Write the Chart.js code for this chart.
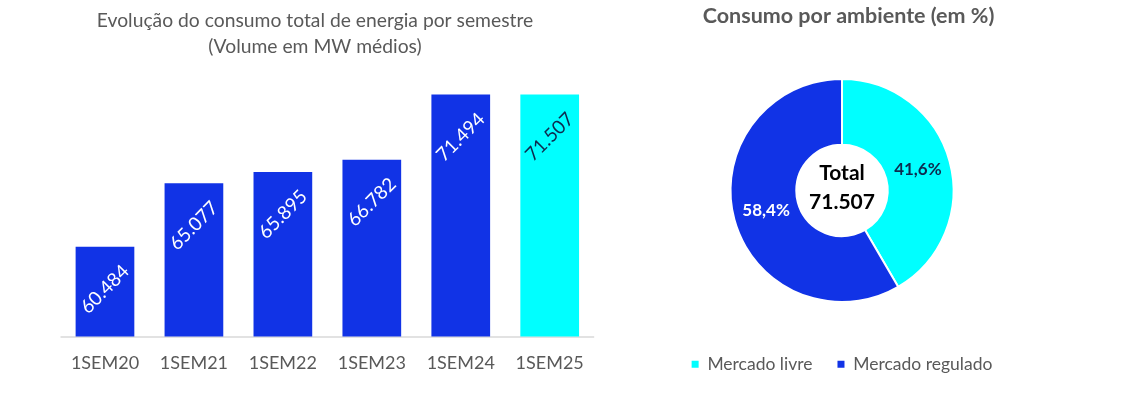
<!DOCTYPE html>
<html>
<head>
<meta charset="utf-8">
<script src="https://cdn.jsdelivr.net/npm/chart.js@4"></script>
<style>
    body { margin: 0; background: #fff; width: 1128px; height: 398px; overflow: hidden; }
    #boxBar { position: absolute; left: 0; top: 0; width: 600px; height: 398px; }
    #boxPie { position: absolute; left: 660px; top: 0; width: 364px; height: 398px; }
</style>
</head>
<body>
<div id="boxBar"><canvas id="barChart"></canvas></div>
<div id="boxPie"><canvas id="pieChart"></canvas></div>
<script>
    // dados do grafico de barras (MW medios)
    var semestres = ["1SEM20", "1SEM21", "1SEM22", "1SEM23", "1SEM24", "1SEM25"];
    var consumo = [60484, 65077, 65895, 66782, 71494, 71507];
    var corBarras = ["#1133E6", "#1133E6", "#1133E6", "#1133E6", "#1133E6", "#00FFFF"];
    var corRotulos = ["#ffffff", "#ffffff", "#ffffff", "#ffffff", "#ffffff", "#0E2A4E"];
    var tituloBarras = ["Evolução do consumo total de energia por semestre", "(Volume em MW médios)"];

    // dados da rosca (%)
    var ambientes = ["Mercado livre", "Mercado regulado"];
    var percentual = [41.6, 58.4];
    var corAmbientes = ["#00FFFF", "#1133E6"];
    var corPct = ["#0E2A4E", "#ffffff"];
    var totalLabel = "71.507";
    var tituloRosca = "Consumo por ambiente (em %)";

    var fonte = "Lato, 'Open Sans', sans-serif";
    var cinza = "#595959";

    function fmtNum(v) {
        return v.toLocaleString("pt-BR");
    }

    // titulo desenhado numa posicao fixa do canvas
    function pluginTitulo(linhas, x, y0, passo, font) {
        return {
            id: "tituloFixo",
            afterDraw: function (chart) {
                var ctx = chart.ctx;
                ctx.save();
                ctx.font = font;
                ctx.fillStyle = cinza;
                ctx.textAlign = "center";
                ctx.textBaseline = "middle";
                linhas.forEach(function (t, i) {
                    ctx.fillText(t, x, y0 + i * passo);
                });
                ctx.restore();
            }
        };
    }

    // linha de base so dentro da area do grafico
    var linhaBase = {
        id: "linhaBase",
        beforeDatasetsDraw: function (chart) {
            var a = chart.chartArea;
            var ctx = chart.ctx;
            ctx.save();
            ctx.strokeStyle = "#d9d9d9";
            ctx.lineWidth = 1.5;
            ctx.beginPath();
            ctx.moveTo(a.left, a.bottom + 0.5);
            ctx.lineTo(a.right, a.bottom + 0.5);
            ctx.stroke();
            ctx.restore();
        }
    };

    // rotulos girados dentro das barras
    var rotuloBarras = {
        id: "rotuloBarras",
        afterDatasetsDraw: function (chart) {
            var ctx = chart.ctx;
            var meta = chart.getDatasetMeta(0);
            ctx.save();
            ctx.font = "19px " + fonte;
            ctx.textAlign = "center";
            ctx.textBaseline = "middle";
            meta.data.forEach(function (bar, i) {
                ctx.save();
                ctx.translate(bar.x, bar.y + 42.5);
                ctx.rotate(-45 * Math.PI / 180);
                ctx.fillStyle = corRotulos[i];
                ctx.fillText(fmtNum(consumo[i]), 0, 0);
                ctx.restore();
            });
            ctx.restore();
        }
    };

    new Chart(document.getElementById("barChart"), {
        type: "bar",
        data: {
            labels: semestres,
            datasets: [{
                data: consumo,
                backgroundColor: corBarras,
                categoryPercentage: 1,
                barPercentage: 0.66
            }]
        },
        options: {
            responsive: true,
            maintainAspectRatio: false,
            animation: false,
            layout: { padding: { left: 60.5, right: 0, top: 87.6, bottom: 7.6 } },
            plugins: {
                legend: { display: false },
                tooltip: { enabled: false }
            },
            scales: {
                y: { display: false, min: 54000, max: 72000 },
                x: {
                    grid: { display: false, drawTicks: false },
                    border: { display: false },
                    ticks: { color: cinza, font: { family: fonte, size: 18 }, padding: 16.2 }
                }
            }
        },
        plugins: [linhaBase, rotuloBarras, pluginTitulo(tituloBarras, 315, 21, 26, "19.3px " + fonte)]
    });

    // texto central e percentuais da rosca
    var rotuloRosca = {
        id: "rotuloRosca",
        afterDatasetsDraw: function (chart) {
            var ctx = chart.ctx;
            var meta = chart.getDatasetMeta(0);
            ctx.save();
            ctx.textAlign = "center";
            ctx.textBaseline = "middle";
            ctx.font = "bold 17px " + fonte;
            meta.data.forEach(function (arc, i) {
                var p = arc.tooltipPosition();
                ctx.fillStyle = corPct[i];
                ctx.fillText(percentual[i].toFixed(1).replace(".", ",") + "%", p.x, p.y);
            });
            var c = meta.data[0];
            ctx.fillStyle = "#000";
            ctx.font = "bold 21px " + fonte;
            ctx.fillText("Total", c.x, c.y - 17);
            ctx.fillText(totalLabel, c.x, c.y + 12);
            ctx.restore();
        }
    };

    new Chart(document.getElementById("pieChart"), {
        type: "doughnut",
        data: {
            labels: ambientes,
            datasets: [{
                data: percentual,
                backgroundColor: corAmbientes,
                borderColor: "#ffffff",
                borderWidth: 2,
                hoverOffset: 0
            }]
        },
        options: {
            responsive: true,
            maintainAspectRatio: false,
            animation: false,
            radius: 111.5,
            cutout: 57,
            layout: { padding: { top: 50.5, bottom: 15 } },
            plugins: {
                tooltip: { enabled: false },
                legend: {
                    position: "bottom",
                    labels: {
                        color: cinza,
                        font: { family: fonte, size: 17.5, lineHeight: 1 },
                        boxWidth: 7,
                        boxHeight: 7,
                        padding: 25,
                        generateLabels: function (chart) {
                            var itens = Chart.overrides.doughnut.plugins.legend.labels.generateLabels(chart);
                            itens.forEach(function (it) { it.lineWidth = 0; });
                            return itens;
                        }
                    }
                }
            }
        },
        plugins: [rotuloRosca, pluginTitulo([tituloRosca], 188.5, 16, 0, "bold 21.5px " + fonte)]
    });
</script>
</body>
</html>
